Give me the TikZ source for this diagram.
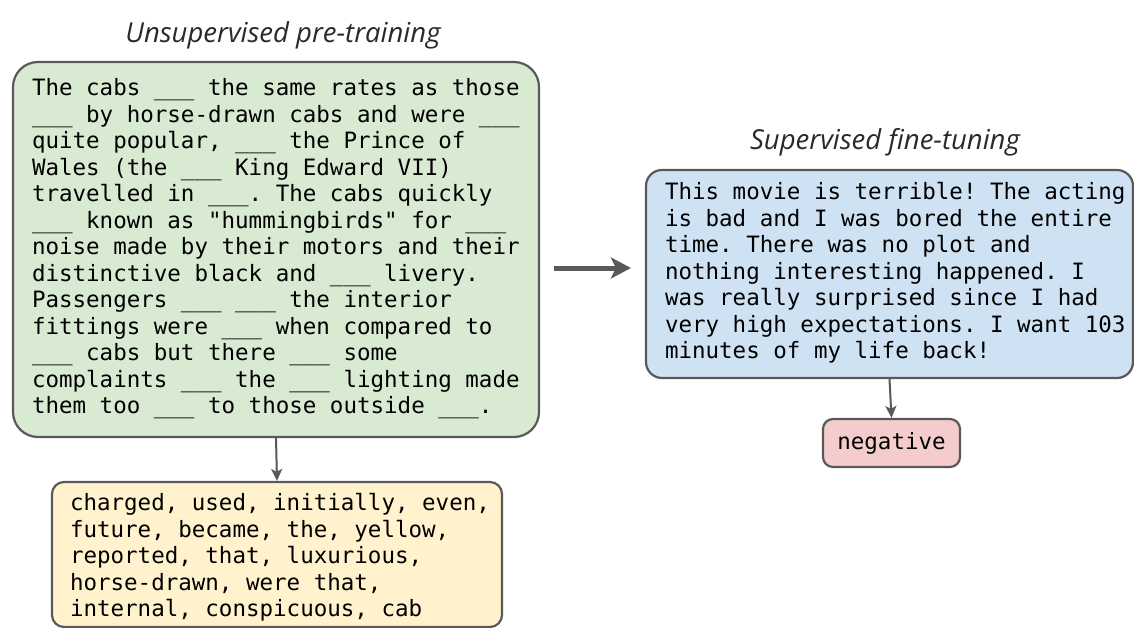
\documentclass[tikz,border=0pt]{standalone}
\usepackage{fontspec}
\setmonofont{DejaVu Sans Mono}
\newfontfamily\headfont{Open Sans}
\usetikzlibrary{arrows.meta,calc}

\definecolor{edgegray}{HTML}{595959}
\definecolor{pregreen}{HTML}{D9EAD3}
\definecolor{wordyellow}{HTML}{FFF2CC}
\definecolor{tuneblue}{HTML}{CFE2F3}
\definecolor{labelred}{HTML}{F4CCCC}
\definecolor{inkgray}{HTML}{2A2A2A}

\newcommand{\gap}{\_\_\_}
\newcommand{\monotext}{\ttfamily\frenchspacing\fontsize{22.5}{26.5}\selectfont}
% fixed lines of text, set #2 from the left edge of a box #1 wide
\newcommand{\padtext}[3]{\makebox[#1][l]{\hspace*{#2}%
  \begin{tabular}{@{}l@{}}#3\end{tabular}}}

\begin{document}
\begin{tikzpicture}[x=1pt,y=-1pt,
  textbox/.style={draw=edgegray, line width=2.2pt, inner sep=0pt,
    font=\monotext, text=black},
  heading/.style={font=\headfont\itshape\fontsize{27.5}{32}\selectfont, text=inkgray, inner sep=0pt},
  thinarrow/.style={draw=edgegray, line width=2pt,
    -{Stealth[length=12pt,width=11pt,inset=3pt]}},
  bigarrow/.style={draw=edgegray, line width=5pt,
    -{Stealth[length=20pt,width=21pt,inset=5pt]}}
]
\useasboundingbox[fill=white] (0,0) rectangle (1134,628);

% pre-training passage with masked words
\node[heading] (pretitle) at (283,35) {Unsupervised pre-training};
\node[textbox, fill=pregreen, rounded corners=25pt,
      minimum width=526pt, minimum height=375pt]
  (passage) at (276,249.5) {\padtext{526pt}{19pt}{%
The cabs \gap{} the same rates as those\\
\gap{} by horse-drawn cabs and were \gap\\
quite popular, \gap{} the Prince of\\
Wales (the \gap{} King Edward VII)\\
travelled in \gap. The cabs quickly\\
\gap{} known as "hummingbirds" for \gap\\
noise made by their motors and their\\
distinctive black and \gap{} livery.\\
Passengers \gap{} \gap{} the interior\\
fittings were \gap{} when compared to\\
\gap{} cabs but there \gap{} some\\
complaints \gap{} the \gap{} lighting made\\
them too \gap{} to those outside \gap.}};

% the masked words to be predicted
\node[textbox, fill=wordyellow, rounded corners=12pt,
      minimum width=450pt, minimum height=145pt]
  (answers) at (277,554.5) {\raisebox{-4pt}[\height][\depth]{%
  \padtext{450pt}{18pt}{%
charged, used, initially, even,\\
future, became, the, yellow,\\
reported, that, luxurious,\\
horse-drawn, were that,\\
internal, conspicuous, cab}}};

% fine-tuning example and its label
\node[heading] (tunetitle) at (885,142) {Supervised fine-tuning};
\node[textbox, fill=tuneblue, rounded corners=16pt,
      minimum width=487pt, minimum height=208pt]
  (review) at (889.5,274) {\padtext{487pt}{19pt}{%
This movie is terrible! The acting\\
is bad and I was bored the entire\\
time. There was no plot and\\
nothing interesting happened. I\\
was really surprised since I had\\
very high expectations. I want 103\\
minutes of my life back!}};

\node[textbox, fill=labelred, rounded corners=10pt,
      minimum width=137pt, minimum height=48pt]
  (label) at (891.5,443) {negative};

% connectors
\draw[thinarrow] (passage.south) -- (answers.north);
\draw[thinarrow] (review.south) -- (label.north);
\draw[bigarrow, shorten <=14pt, shorten >=14pt]
  ($(passage.east |- review.west)+(0,-6)$) -- ($(review.west)+(0,-6)$);
\end{tikzpicture}
\end{document}
